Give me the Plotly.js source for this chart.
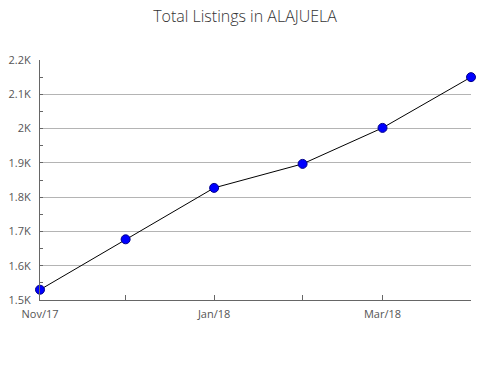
<!DOCTYPE html>
<html><head><meta charset="utf-8">
<script src="https://cdn.plot.ly/plotly-3.0.1.min.js"></script>
<style>body{margin:0;background:#fff}#c{width:490px;height:380px}</style>
</head><body><div id="c"></div>
<script>
const months = ['2017-11-01','2017-12-01','2018-01-01','2018-02-01','2018-03-01','2018-04-01'];
const listings = [1530, 1677, 1827, 1897, 2002, 2150];
const tickLabels = ['Nov/17','','Jan/18','','Mar/18',''];
const yTickVals = [1500,1600,1700,1800,1900,2000,2100,2200];
const yTickText = ['1.5K','1.6K','1.7K','1.8K','1.9K','2K','2.1K','2.2K'];

Plotly.newPlot('c', [{
  x: months, y: listings, type: 'scatter', mode: 'lines+markers',
  line: {color: '#000', width: 1},
  marker: {color: '#0000ff', size: 9, symbol: 'circle', line: {color: '#00008b', width: 1}},
  cliponaxis: false, hoverinfo: 'none'
}], {
  width: 490, height: 380,
  margin: {l: 40, r: 19, t: 60, b: 80},
  paper_bgcolor: '#fff', plot_bgcolor: '#fff',
  showlegend: false,
  font: {family: 'Open Sans, sans-serif', color: '#555', size: 11},
  title: {text: 'Total Listings in ALAJUELA', x: 0.5, xanchor: 'center', y: 0.958, yanchor: 'middle',
          font: {family: 'Open Sans, sans-serif', size: 16, color: '#333', weight: 300}},
  xaxis: {
    type: 'date', range: [months[0], months[months.length-1]],
    tickvals: months, ticktext: tickLabels,
    ticks: 'inside', ticklen: 5, tickcolor: '#666',
    showgrid: false, showline: true, linecolor: '#666', linewidth: 1,
    zeroline: false, tickfont: {size: 11, color: '#555'}, ticklabelstandoff: 4, fixedrange: true
  },
  yaxis: {
    range: [1500, 2200], tickvals: yTickVals, ticktext: yTickText,
    ticks: 'inside', ticklen: 3, tickcolor: '#666',
    minor: {dtick: 50, tick0: 1500, ticks: 'inside', ticklen: 3, tickcolor: '#666', showgrid: false},
    showgrid: true, gridcolor: '#b4b4b4', gridwidth: 1,
    showline: true, linecolor: '#666', linewidth: 1, zeroline: false,
    tickfont: {size: 11, color: '#555'}, ticklabelstandoff: 6, fixedrange: true
  }
}, {displayModeBar: false, staticPlot: true});
</script></body></html>
